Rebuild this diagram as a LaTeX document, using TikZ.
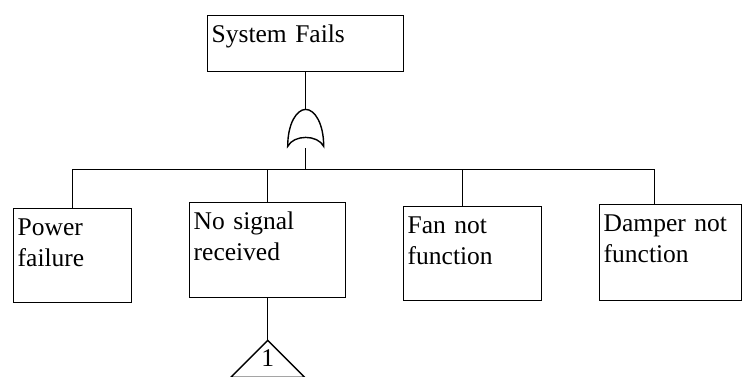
\documentclass[tikz,border=0pt]{standalone}
\usepackage{fontspec}
\setmainfont{Liberation Serif}
\usetikzlibrary{positioning}
\tikzset{
  event/.style={rectangle,draw=black,line width=1.4pt,anchor=north west,
    inner xsep=4pt,inner ysep=0pt,align=left,text height=27pt,
    font=\fontsize{25.5}{31}\selectfont},
  link/.style={draw=black,line width=1.4pt},
  gatelabel/.style={inner sep=0pt,font=\fontsize{25.5}{31}\selectfont}
}

\begin{document}
\begin{tikzpicture}[x=1pt,y=-1pt]
\useasboundingbox (0,0) rectangle (748,376);
\node[event,text width=188pt,text depth=29pt] (top) at (207,15) {System Fails};
\node[event,text width=110pt,text depth=67pt] (power) at (13,208) {Power\\failure};
\node[event,text width=148pt,text depth=68pt] (signal) at (189,202) {No signal\\received};
\node[event,text width=130pt,text depth=67pt] (fan) at (403,206) {Fan not\\function};
\node[event,text width=134pt,text depth=69pt] (damper) at (599,204) {Damper not\\function};
% OR gate
\coordinate[below=37pt of top.south] (gtop);
\coordinate[below=39pt of gtop] (gout);
\coordinate[below=21pt of gout] (bus);
\draw[link] (gtop) .. controls +(9,0) and +(0,-23) .. ++(18,37)
  .. controls +(-6,-12) and +(6,-12) .. ++(-36,0)
  .. controls +(0,-23) and +(-9,0) .. (gtop);
\draw[link] (top.south) -- (gtop);
\draw[link] (gout) -- (bus);
% branches
\coordinate (dF) at ([xshift=-10pt]fan.north);
\coordinate (dD) at ([xshift=-16pt]damper.north);
\draw[link] (power.north) |- (bus) -| (dD);
\draw[link] (signal.north) -- (signal.north |- bus);
\draw[link] (dF) -- (dF |- bus);
% transfer
\coordinate[below=42pt of signal.south] (xfer);
\draw[link] (signal.south) -- (xfer);
\draw[link] (xfer) -- ++(-37,37) -- ++(74,0) -- cycle;
\node[gatelabel,below=9pt of xfer] (xnum) {1};
\end{tikzpicture}
\end{document}
